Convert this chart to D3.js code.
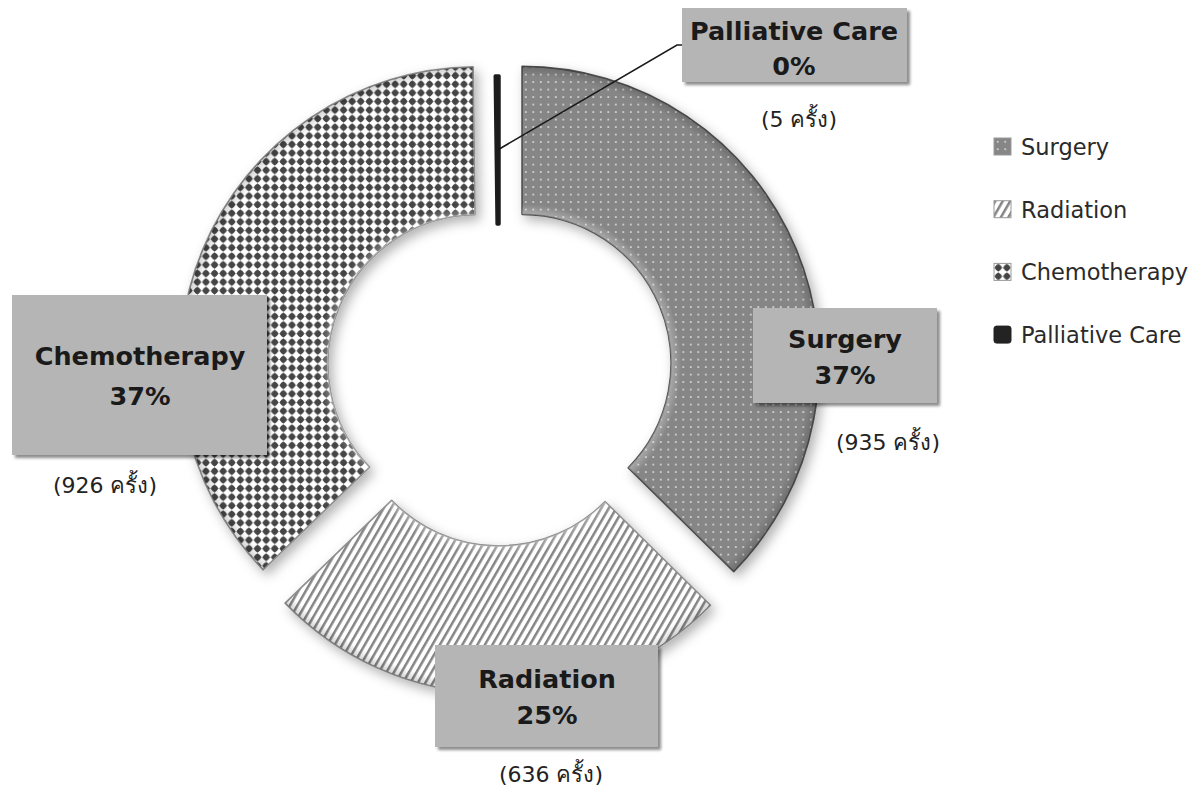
<!DOCTYPE html>
<html>
<head>
<meta charset="utf-8">
<script src="https://cdn.jsdelivr.net/npm/d3@7"></script>
<style>
  html, body { margin: 0; padding: 0; background: #ffffff; }
  svg { display: block; }
</style>
</head>
<body>
<svg id="chart" width="1203" height="796"></svg>
<script>
// ---- data ----
const categories = ["Surgery", "Radiation", "Chemotherapy", "Palliative Care"];
const counts = [935, 636, 926, 5];
const unitLabel = "ครั้ง";

// ---- layout (style, not data) ----
const W = 1203, H = 796;
const cx = 499, cy = 373;
const outerR = 297, innerR = 149;
const explode = { "Surgery": 25, "Radiation": 24, "Chemotherapy": 24, "Palliative Care": 0 };
const labelBoxes = {
  "Surgery":         { x: 753, y: 308, w: 184, h: 95,  l1: 348, l2: 384, cx: 845, cntX: 888, cntY: 450 },
  "Radiation":       { x: 435, y: 645, w: 223, h: 102, l1: 688, l2: 724, cx: 547, cntX: 551, cntY: 782 },
  "Chemotherapy":    { x: 12,  y: 295, w: 255, h: 160, l1: 365, l2: 405, cx: 140, cntX: 105, cntY: 493 },
  "Palliative Care": { x: 682, y: 8,   w: 225, h: 74,  l1: 40,  l2: 75,  cx: 794, cntX: 799, cntY: 127 }
};

const data = categories.map((c, i) => ({ name: c, count: counts[i] }));
const total = d3.sum(counts);

const svg = d3.select("#chart");
const defs = svg.append("defs");

// shadows
const segShadow = defs.append("filter").attr("id", "segShadow")
  .attr("x", "-20%").attr("y", "-20%").attr("width", "140%").attr("height", "140%");
segShadow.append("feDropShadow").attr("dx", 4).attr("dy", 5).attr("stdDeviation", 6)
  .attr("flood-color", "#000").attr("flood-opacity", 0.3);

const boxShadow = defs.append("filter").attr("id", "boxShadow")
  .attr("x", "-10%").attr("y", "-10%").attr("width", "130%").attr("height", "130%");
boxShadow.append("feDropShadow").attr("dx", 3).attr("dy", 3).attr("stdDeviation", 1.6)
  .attr("flood-color", "#000").attr("flood-opacity", 0.45);

// patterns
const pSurg = defs.append("pattern").attr("id", "pSurgery")
  .attr("patternUnits", "userSpaceOnUse").attr("width", 7.5).attr("height", 7.5);
pSurg.append("rect").attr("width", 7.5).attr("height", 7.5).attr("fill", "#868686");
pSurg.append("circle").attr("cx", 3.75).attr("cy", 3.75).attr("r", 0.95).attr("fill", "#e2e2e2");

const pRad = defs.append("pattern").attr("id", "pRadiation")
  .attr("patternUnits", "userSpaceOnUse").attr("width", 6.5).attr("height", 10)
  .attr("patternTransform", "rotate(30)");
pRad.append("rect").attr("width", 6.5).attr("height", 10).attr("fill", "#ffffff");
pRad.append("rect").attr("x", 0).attr("width", 2.5).attr("height", 10).attr("fill", "#858585");

const pChemo = defs.append("pattern").attr("id", "pChemotherapy")
  .attr("patternUnits", "userSpaceOnUse").attr("width", 8.6).attr("height", 8.6);
pChemo.append("rect").attr("width", 8.6).attr("height", 8.6).attr("fill", "#ffffff");
pChemo.append("path").attr("d", "M4.3,0.3 L8.3,4.3 L4.3,8.3 L0.3,4.3 Z").attr("fill", "#444444");
pChemo.append("circle").attr("cx", 4.3).attr("cy", 4.3).attr("r", 3.0).attr("fill", "#444444");

// bevel gradient (radial highlight near inner/outer rims), in each segment's local coords
const bevel = defs.append("radialGradient").attr("id", "bevel")
  .attr("gradientUnits", "userSpaceOnUse").attr("cx", 0).attr("cy", 0).attr("r", outerR);
bevel.append("stop").attr("offset", innerR / outerR).attr("stop-color", "#fff").attr("stop-opacity", 0.3);
bevel.append("stop").attr("offset", innerR / outerR + 0.035).attr("stop-color", "#fff").attr("stop-opacity", 0);
bevel.append("stop").attr("offset", 0.965).attr("stop-color", "#000").attr("stop-opacity", 0);
bevel.append("stop").attr("offset", 1).attr("stop-color", "#000").attr("stop-opacity", 0.18);

const fills = {
  "Surgery": "url(#pSurgery)",
  "Radiation": "url(#pRadiation)",
  "Chemotherapy": "url(#pChemotherapy)",
  "Palliative Care": "#232323"
};
const strokes = {
  "Surgery": "#4f4f4f",
  "Radiation": "#8e8e8e",
  "Chemotherapy": "#8e8e8e",
  "Palliative Care": "#1c1c1c"
};

const pie = d3.pie().sort(null).value(d => d.count).startAngle(0).endAngle(2 * Math.PI);
const arc = d3.arc().innerRadius(innerR).outerRadius(outerR);
const arcs = pie(data);

const gChart = svg.append("g").attr("transform", `translate(${cx},${cy})`);

const seg = gChart.selectAll("g.seg").data(arcs).join("g").attr("class", "seg")
  .attr("transform", d => {
    const a = (d.startAngle + d.endAngle) / 2;
    const e = explode[d.data.name];
    return `translate(${e * Math.sin(a)},${-e * Math.cos(a)})`;
  });

seg.append("path")
  .attr("d", arc)
  .attr("fill", d => fills[d.data.name])
  .attr("stroke", d => strokes[d.data.name])
  .attr("stroke-width", d => d.data.name === "Palliative Care" ? 3.5 : 1.6)
  .attr("stroke-linejoin", "round")
  .attr("filter", d => d.data.name === "Palliative Care" ? null : "url(#segShadow)");

seg.filter(d => d.data.name !== "Palliative Care")
  .append("path")
  .attr("d", arc)
  .attr("fill", "url(#bevel)")
  .style("pointer-events", "none");

// leader line for Palliative Care
const pal = arcs.find(d => d.data.name === "Palliative Care");
const palMid = (pal.startAngle + pal.endAngle) / 2;
const palR = (innerR + outerR) / 2;
const palBox = labelBoxes["Palliative Care"];
const lp = [
  [cx + palR * Math.sin(palMid), cy - palR * Math.cos(palMid)],
  [palBox.x - 5, palBox.y + 37],
  [palBox.x, palBox.y + 37]
];
svg.append("path")
  .attr("d", d3.line()(lp))
  .attr("fill", "none").attr("stroke", "#1a1a1a").attr("stroke-width", 1.6);

// labels
const labels = svg.append("g").selectAll("g.lab").data(arcs).join("g").attr("class", "lab");
labels.append("rect")
  .attr("x", d => labelBoxes[d.data.name].x)
  .attr("y", d => labelBoxes[d.data.name].y)
  .attr("width", d => labelBoxes[d.data.name].w)
  .attr("height", d => labelBoxes[d.data.name].h)
  .attr("fill", "#b5b5b5")
  .attr("filter", "url(#boxShadow)");
labels.append("text")
  .attr("x", d => labelBoxes[d.data.name].cx)
  .attr("y", d => labelBoxes[d.data.name].l1)
  .attr("text-anchor", "middle")
  .attr("font-family", "'DejaVu Sans', sans-serif")
  .attr("font-weight", "bold").attr("font-size", 25.5).attr("fill", "#1a1a1a")
  .text(d => d.data.name);
labels.append("text")
  .attr("x", d => labelBoxes[d.data.name].cx)
  .attr("y", d => labelBoxes[d.data.name].l2)
  .attr("text-anchor", "middle")
  .attr("font-family", "'DejaVu Sans', sans-serif")
  .attr("font-weight", "bold").attr("font-size", 25.5).attr("fill", "#1a1a1a")
  .text(d => Math.round(d.data.count / total * 100) + "%");
labels.append("text")
  .attr("x", d => labelBoxes[d.data.name].cntX)
  .attr("y", d => labelBoxes[d.data.name].cntY)
  .attr("text-anchor", "middle")
  .attr("font-family", "'DejaVu Sans', 'Noto Sans', sans-serif")
  .attr("font-size", 22).attr("fill", "#222")
  .text(d => `(${d.data.count} ${unitLabel})`);

// legend
const legend = svg.append("g").attr("transform", "translate(994,138)");
const li = legend.selectAll("g").data(categories).join("g")
  .attr("transform", (d, i) => `translate(0,${i * 62.7})`);
li.append("rect")
  .attr("width", 17).attr("height", 17)
  .attr("rx", d => d === "Palliative Care" ? 2.5 : 0)
  .attr("fill", d => fills[d])
  .attr("stroke", d => d === "Palliative Care" ? "#222" : "#999")
  .attr("stroke-width", 1);
li.append("text")
  .attr("x", 27).attr("y", 17)
  .attr("font-family", "'DejaVu Sans', sans-serif")
  .attr("font-size", 22.5).attr("fill", "#2a2a2a")
  .text(d => d);
</script>
</body>
</html>
